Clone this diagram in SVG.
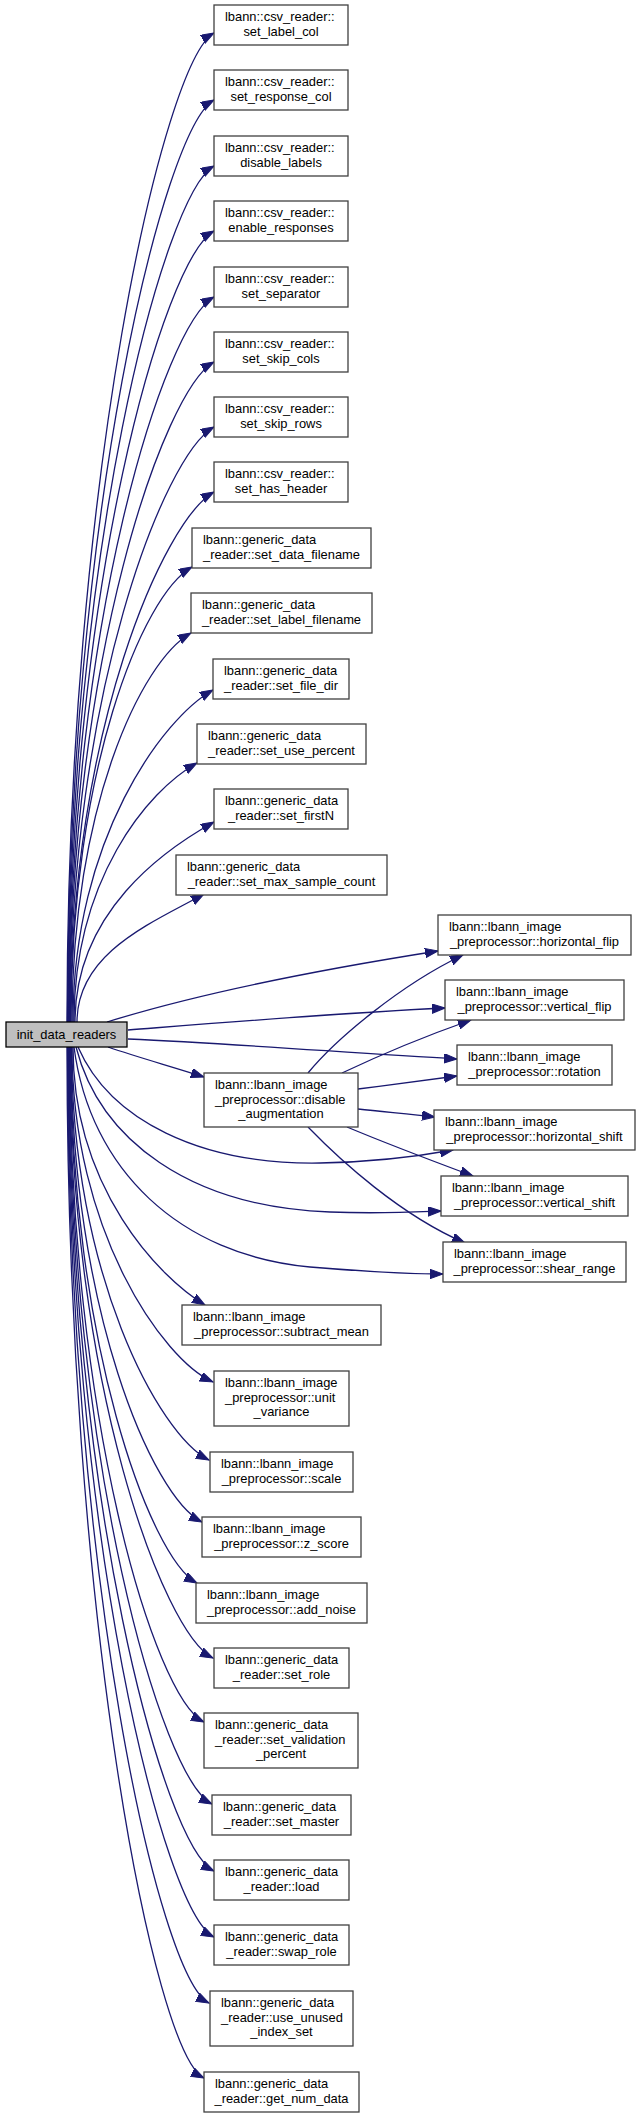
<svg xmlns="http://www.w3.org/2000/svg" width="640" height="2117" viewBox="0 0 640 2117">
<style>
.node rect{fill:#ffffff;stroke:#404040;stroke-width:1.3}
#init_data_readers rect{fill:#bfbfbf;stroke:#000000}
text{font-family:"Liberation Sans",Arial,Helvetica,sans-serif;font-size:12.9px;fill:#000000}
.c{text-anchor:middle}
.edge{fill:none;stroke:#191970;stroke-width:1.3;marker-end:url(#arr)}
</style>
<defs>
<marker id="arr" markerUnits="userSpaceOnUse" markerWidth="14" markerHeight="10" refX="13" refY="4.7" orient="auto">
<path d="M0,0 L13,4.7 L0,9.4 z" fill="#191970" stroke="#191970" stroke-width="1"/>
</marker>
</defs>
<rect x="0" y="0" width="640" height="2117" fill="#ffffff"/>
<g id="connectors">
<path class="edge" d="M67,1022 C67,478 164,61 214,33"/>
<path class="edge" d="M67.5,1022 C67.5,515 164,128 214,100"/>
<path class="edge" d="M68,1022 C68,551 164,194 214,166"/>
<path class="edge" d="M68.5,1022 C68.5,587 164,259 214,231"/>
<path class="edge" d="M69,1022 C69,623 164,325 214,297"/>
<path class="edge" d="M69.5,1022 C69.5,659 164,390 214,362"/>
<path class="edge" d="M70,1022 C70,695 164,455 214,427"/>
<path class="edge" d="M70.5,1022 C70.5,730 164,520 214,492"/>
<path class="edge" d="M71,1022 C71,772 142,595 192,567"/>
<path class="edge" d="M72,1022 C72,808 141,661 191,633"/>
<path class="edge" d="M73,1022 C73,839 163,718 213,690"/>
<path class="edge" d="M74,1022 C74,880 147,791 197,763"/>
<path class="edge" d="M75,1022 C75,912 164,850 214,822"/>
<path class="edge" d="M77,1022 C77,952 154,922 204,894"/>
<path class="edge" d="M107,1022 C200,993 330,968 438,951"/>
<path class="edge" d="M128,1030 C230,1022 340,1013 445,1008"/>
<path class="edge" d="M128,1039 C240,1044 350,1053 457,1059"/>
<path class="edge" d="M78,1047 C110,1120 200,1165 320,1163 C380,1162 420,1156 453,1150"/>
<path class="edge" d="M76,1047 C100,1140 190,1207 330,1212 C380,1214 415,1212 441,1211"/>
<path class="edge" d="M74,1047 C90,1170 180,1255 310,1267 C370,1272 405,1274 443,1274"/>
<path class="edge" d="M108,1047 C140,1058 170,1066 204,1077"/>
<path class="edge" d="M308,1073 C335,1040 400,985 463,955"/>
<path class="edge" d="M342,1073 C380,1055 420,1038 471,1020"/>
<path class="edge" d="M358,1089 C390,1085 420,1081 457,1076"/>
<path class="edge" d="M358,1109 C385,1112 410,1114 435,1117"/>
<path class="edge" d="M347,1127 C390,1145 430,1160 473,1176"/>
<path class="edge" d="M308,1127 C340,1160 400,1215 465,1243"/>
<path class="edge" d="M73,1047 C73,1189 160,1278 205,1305"/>
<path class="edge" d="M72,1047 C72,1231 163,1360 213,1382"/>
<path class="edge" d="M71.5,1047 C71.5,1274 159,1435 209,1460"/>
<path class="edge" d="M71,1047 C71,1308 152,1497 202,1522"/>
<path class="edge" d="M70.5,1047 C70.5,1342 150,1558 197,1583"/>
<path class="edge" d="M70,1047 C70,1383 163,1633 213,1658"/>
<path class="edge" d="M69.5,1047 C69.5,1418 154,1697 204,1722"/>
<path class="edge" d="M69,1047 C69,1463 162,1779 212,1804"/>
<path class="edge" d="M68.5,1047 C68.5,1500 164,1846 214,1871"/>
<path class="edge" d="M68,1047 C68,1537 164,1912 214,1937"/>
<path class="edge" d="M67.5,1047 C67.5,1573 159,1978 209,2003"/>
<path class="edge" d="M67,1047 C67,1614 154,2053 204,2078"/>
</g>
<g id="set_label_col" class="node"><rect x="214" y="5" width="134" height="40"/><text x="225" y="21">lbann::csv_reader::</text><text class="c" x="281" y="36">set_label_col</text></g>
<g id="set_response_col" class="node"><rect x="214" y="70" width="134" height="40"/><text x="225" y="86">lbann::csv_reader::</text><text class="c" x="281" y="101">set_response_col</text></g>
<g id="disable_labels" class="node"><rect x="214" y="136" width="134" height="40"/><text x="225" y="152">lbann::csv_reader::</text><text class="c" x="281" y="167">disable_labels</text></g>
<g id="enable_responses" class="node"><rect x="214" y="201" width="134" height="40"/><text x="225" y="217">lbann::csv_reader::</text><text class="c" x="281" y="232">enable_responses</text></g>
<g id="set_separator" class="node"><rect x="214" y="267" width="134" height="40"/><text x="225" y="283">lbann::csv_reader::</text><text class="c" x="281" y="298">set_separator</text></g>
<g id="set_skip_cols" class="node"><rect x="214" y="332" width="134" height="40"/><text x="225" y="348">lbann::csv_reader::</text><text class="c" x="281" y="363">set_skip_cols</text></g>
<g id="set_skip_rows" class="node"><rect x="214" y="397" width="134" height="40"/><text x="225" y="413">lbann::csv_reader::</text><text class="c" x="281" y="428">set_skip_rows</text></g>
<g id="set_has_header" class="node"><rect x="214" y="462" width="134" height="40"/><text x="225" y="478">lbann::csv_reader::</text><text class="c" x="281" y="493">set_has_header</text></g>
<g id="set_data_filename" class="node"><rect x="192" y="528" width="179" height="40"/><text x="203" y="544">lbann::generic_data</text><text class="c" x="281.5" y="559">_reader::set_data_filename</text></g>
<g id="set_label_filename" class="node"><rect x="191" y="593" width="181" height="40"/><text x="202" y="609">lbann::generic_data</text><text class="c" x="281.5" y="624">_reader::set_label_filename</text></g>
<g id="set_file_dir" class="node"><rect x="213" y="659" width="136" height="40"/><text x="224" y="675">lbann::generic_data</text><text class="c" x="281" y="690">_reader::set_file_dir</text></g>
<g id="set_use_percent" class="node"><rect x="197" y="724" width="169" height="40"/><text x="208" y="740">lbann::generic_data</text><text class="c" x="281.5" y="755">_reader::set_use_percent</text></g>
<g id="set_firstN" class="node"><rect x="214" y="789" width="134" height="40"/><text x="225" y="805">lbann::generic_data</text><text class="c" x="281" y="820">_reader::set_firstN</text></g>
<g id="set_max_sample_count" class="node"><rect x="176" y="855" width="211" height="40"/><text x="187" y="871">lbann::generic_data</text><text class="c" x="281.5" y="886">_reader::set_max_sample_count</text></g>
<g id="init_data_readers" class="node"><rect x="6" y="1022" width="121" height="25"/><text class="c" x="66.5" y="1039">init_data_readers</text></g>
<g id="disable_augmentation" class="node"><rect x="204" y="1073" width="154" height="54"/><text x="215" y="1089">lbann::lbann_image</text><text x="215" y="1103.5">_preprocessor::disable</text><text class="c" x="281" y="1118">_augmentation</text></g>
<g id="horizontal_flip" class="node"><rect x="438" y="915" width="193" height="40"/><text x="449" y="931">lbann::lbann_image</text><text class="c" x="534.5" y="946">_preprocessor::horizontal_flip</text></g>
<g id="vertical_flip" class="node"><rect x="445" y="980" width="179" height="40"/><text x="456" y="996">lbann::lbann_image</text><text class="c" x="534.5" y="1011">_preprocessor::vertical_flip</text></g>
<g id="rotation" class="node"><rect x="457" y="1045" width="155" height="40"/><text x="468" y="1061">lbann::lbann_image</text><text class="c" x="534.5" y="1076">_preprocessor::rotation</text></g>
<g id="horizontal_shift" class="node"><rect x="434" y="1110" width="201" height="40"/><text x="445" y="1126">lbann::lbann_image</text><text class="c" x="534.5" y="1141">_preprocessor::horizontal_shift</text></g>
<g id="vertical_shift" class="node"><rect x="441" y="1176" width="187" height="40"/><text x="452" y="1192">lbann::lbann_image</text><text class="c" x="534.5" y="1207">_preprocessor::vertical_shift</text></g>
<g id="shear_range" class="node"><rect x="443" y="1242" width="183" height="40"/><text x="454" y="1258">lbann::lbann_image</text><text class="c" x="534.5" y="1273">_preprocessor::shear_range</text></g>
<g id="subtract_mean" class="node"><rect x="182" y="1305" width="199" height="40"/><text x="193" y="1321">lbann::lbann_image</text><text class="c" x="281.5" y="1336">_preprocessor::subtract_mean</text></g>
<g id="unit_variance" class="node"><rect x="214" y="1371" width="135" height="55"/><text x="225" y="1387">lbann::lbann_image</text><text x="225" y="1401.5">_preprocessor::unit</text><text class="c" x="281.5" y="1416">_variance</text></g>
<g id="scale" class="node"><rect x="210" y="1452" width="143" height="40"/><text x="221" y="1468">lbann::lbann_image</text><text class="c" x="281.5" y="1483">_preprocessor::scale</text></g>
<g id="z_score" class="node"><rect x="202" y="1517" width="159" height="40"/><text x="213" y="1533">lbann::lbann_image</text><text class="c" x="281.5" y="1548">_preprocessor::z_score</text></g>
<g id="add_noise" class="node"><rect x="196" y="1583" width="171" height="40"/><text x="207" y="1599">lbann::lbann_image</text><text class="c" x="281.5" y="1614">_preprocessor::add_noise</text></g>
<g id="set_role" class="node"><rect x="214" y="1648" width="135" height="40"/><text x="225" y="1664">lbann::generic_data</text><text class="c" x="281.5" y="1679">_reader::set_role</text></g>
<g id="set_validation_percent" class="node"><rect x="204" y="1713" width="154" height="55"/><text x="215" y="1729">lbann::generic_data</text><text x="215" y="1743.5">_reader::set_validation</text><text class="c" x="281" y="1758">_percent</text></g>
<g id="set_master" class="node"><rect x="212" y="1795" width="139" height="40"/><text x="223" y="1811">lbann::generic_data</text><text class="c" x="281.5" y="1826">_reader::set_master</text></g>
<g id="load" class="node"><rect x="214" y="1860" width="135" height="40"/><text x="225" y="1876">lbann::generic_data</text><text class="c" x="281.5" y="1891">_reader::load</text></g>
<g id="swap_role" class="node"><rect x="214" y="1925" width="135" height="40"/><text x="225" y="1941">lbann::generic_data</text><text class="c" x="281.5" y="1956">_reader::swap_role</text></g>
<g id="use_unused_index_set" class="node"><rect x="210" y="1991" width="143" height="55"/><text x="221" y="2007">lbann::generic_data</text><text x="221" y="2021.5">_reader::use_unused</text><text class="c" x="281.5" y="2036">_index_set</text></g>
<g id="get_num_data" class="node"><rect x="204" y="2072" width="155" height="40"/><text x="215" y="2088">lbann::generic_data</text><text class="c" x="281.5" y="2103">_reader::get_num_data</text></g>
</svg>
